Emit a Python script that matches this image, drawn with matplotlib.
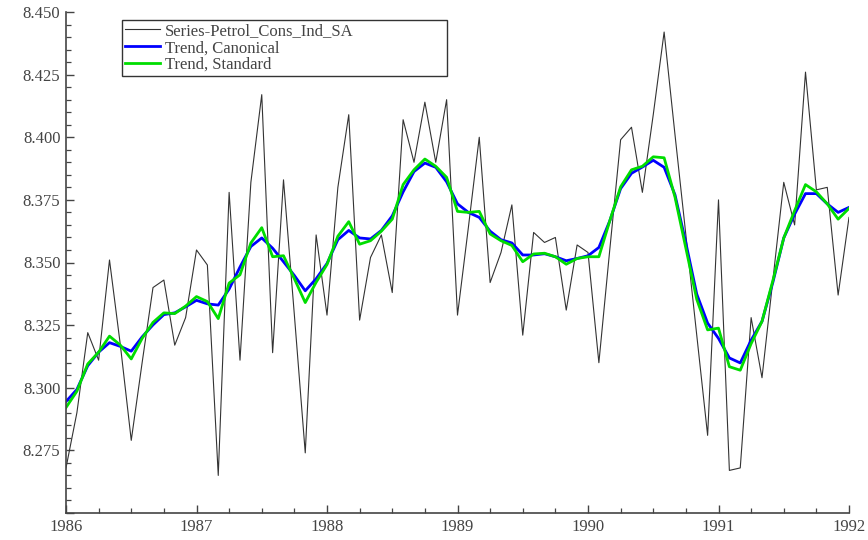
import numpy as np
import matplotlib
matplotlib.use("Agg")
import matplotlib.pyplot as plt
from matplotlib.ticker import MultipleLocator, FuncFormatter, FormatStrFormatter

# monthly data, Jan 1986 .. Jan 1992
start_year = 1986
series = [8.268, 8.290, 8.322, 8.311, 8.351, 8.317, 8.279, 8.310, 8.340, 8.343,
          8.317, 8.328, 8.355, 8.349, 8.265, 8.378, 8.311, 8.382, 8.417, 8.314,
          8.383, 8.329, 8.274, 8.361, 8.329, 8.380, 8.409, 8.327, 8.352, 8.361,
          8.338, 8.407, 8.390, 8.414, 8.390, 8.415, 8.329, 8.364, 8.400, 8.342,
          8.354, 8.373, 8.321, 8.362, 8.358, 8.360, 8.331, 8.357, 8.354, 8.310,
          8.355, 8.399, 8.404, 8.378, 8.409, 8.442, 8.401, 8.361, 8.321, 8.281,
          8.375, 8.267, 8.268, 8.328, 8.304, 8.343, 8.382, 8.365, 8.426, 8.379,
          8.380, 8.337, 8.368]
trend_canonical = [8.2945, 8.2993, 8.3088, 8.3142, 8.3180, 8.3165, 8.3146, 8.3203, 8.3251, 8.3292,
                   8.3299, 8.3323, 8.3349, 8.3335, 8.3330, 8.3394, 8.3482, 8.3564, 8.3598, 8.3557,
                   8.3503, 8.3448, 8.3387, 8.3435, 8.3496, 8.3591, 8.3628, 8.3598, 8.3594, 8.3628,
                   8.3686, 8.3782, 8.3863, 8.3897, 8.3880, 8.3822, 8.3734, 8.3700, 8.3680, 8.3625,
                   8.3591, 8.3578, 8.3530, 8.3530, 8.3535, 8.3523, 8.3507, 8.3516, 8.3527, 8.3560,
                   8.3666, 8.3795, 8.3856, 8.3881, 8.3908, 8.3880, 8.3770, 8.3578, 8.3374, 8.3258,
                   8.3197, 8.3119, 8.3099, 8.3190, 8.3265, 8.3421, 8.3598, 8.3693, 8.3775, 8.3775,
                   8.3734, 8.3700, 8.3720]
trend_standard = [8.2921, 8.2986, 8.3095, 8.3142, 8.3206, 8.3170, 8.3115, 8.3197, 8.3261, 8.3299,
                  8.3296, 8.3326, 8.3364, 8.3344, 8.3276, 8.3418, 8.3451, 8.3578, 8.3639, 8.3523,
                  8.3527, 8.3435, 8.3340, 8.3421, 8.3492, 8.3605, 8.3663, 8.3573, 8.3587, 8.3625,
                  8.3673, 8.3811, 8.3870, 8.3913, 8.3884, 8.3840, 8.3704, 8.3700, 8.3704, 8.3614,
                  8.3587, 8.3568, 8.3503, 8.3534, 8.3537, 8.3523, 8.3493, 8.3516, 8.3523, 8.3523,
                  8.3666, 8.3802, 8.3870, 8.3884, 8.3922, 8.3918, 8.3761, 8.3557, 8.3353, 8.3231,
                  8.3238, 8.3084, 8.3070, 8.3176, 8.3265, 8.3428, 8.3598, 8.3707, 8.3811, 8.3782,
                  8.3734, 8.3673, 8.3716]
labels = ["Series-Petrol_Cons_Ind_SA", "Trend, Canonical", "Trend, Standard"]

t = start_year + np.arange(len(series)) / 12.0

plt.rcParams['font.family'] = ['Liberation Serif', 'DejaVu Serif']
plt.rcParams['font.size'] = 12

fig = plt.figure(figsize=(8.68, 5.40), dpi=100)
ax = fig.add_axes([66 / 868, 1 - 513 / 540, (849 - 66) / 868, (513 - 12) / 540])

ax.plot(t, series, color="#333333", lw=0.8, label=labels[0])
ax.plot(t, trend_canonical, color="#0000ff", lw=2.0, label=labels[1])
ax.plot(t, trend_standard, color="#00dd00", lw=2.0, label=labels[2])

ax.set_xlim(1986, 1992)
ax.set_ylim(8.25, 8.45)

ax.xaxis.set_major_locator(MultipleLocator(1))
ax.xaxis.set_minor_locator(MultipleLocator(0.25))
ax.yaxis.set_major_locator(MultipleLocator(0.025))
ax.yaxis.set_minor_locator(MultipleLocator(0.005))
# no label at the bottom end of the y axis
ax.yaxis.set_major_formatter(FuncFormatter(lambda v, p: "" if v < 8.26 else "%.3f" % v))
ax.xaxis.set_major_formatter(FormatStrFormatter("%d"))

for s in ["top", "right"]:
    ax.spines[s].set_visible(False)
for s in ["left", "bottom"]:
    ax.spines[s].set_color("#444444")
    ax.spines[s].set_linewidth(1.2)

ax.tick_params(which="both", direction="in", color="#444444", labelcolor="#444444")
ax.tick_params(which="major", length=6, width=1.0)
ax.tick_params(which="minor", length=3.5, width=0.9)
ax.tick_params(axis="y", pad=4)
ax.tick_params(axis="x", pad=4)

# legend box stretched to the width seen in the original
leg = ax.legend(loc="upper left", bbox_to_anchor=(56 / 783, 1 - 8 / 501, 325 / 783, 0.0),
                mode="expand", frameon=True, fancybox=False, framealpha=1,
                edgecolor="#333333", handlelength=2.1, handletextpad=0.3,
                labelspacing=0.05, borderpad=0.2, borderaxespad=0, fontsize=12)
leg.get_frame().set_linewidth(1.0)
for txt in leg.get_texts():
    txt.set_color("#444444")

fig.savefig("out.png", dpi=100)
